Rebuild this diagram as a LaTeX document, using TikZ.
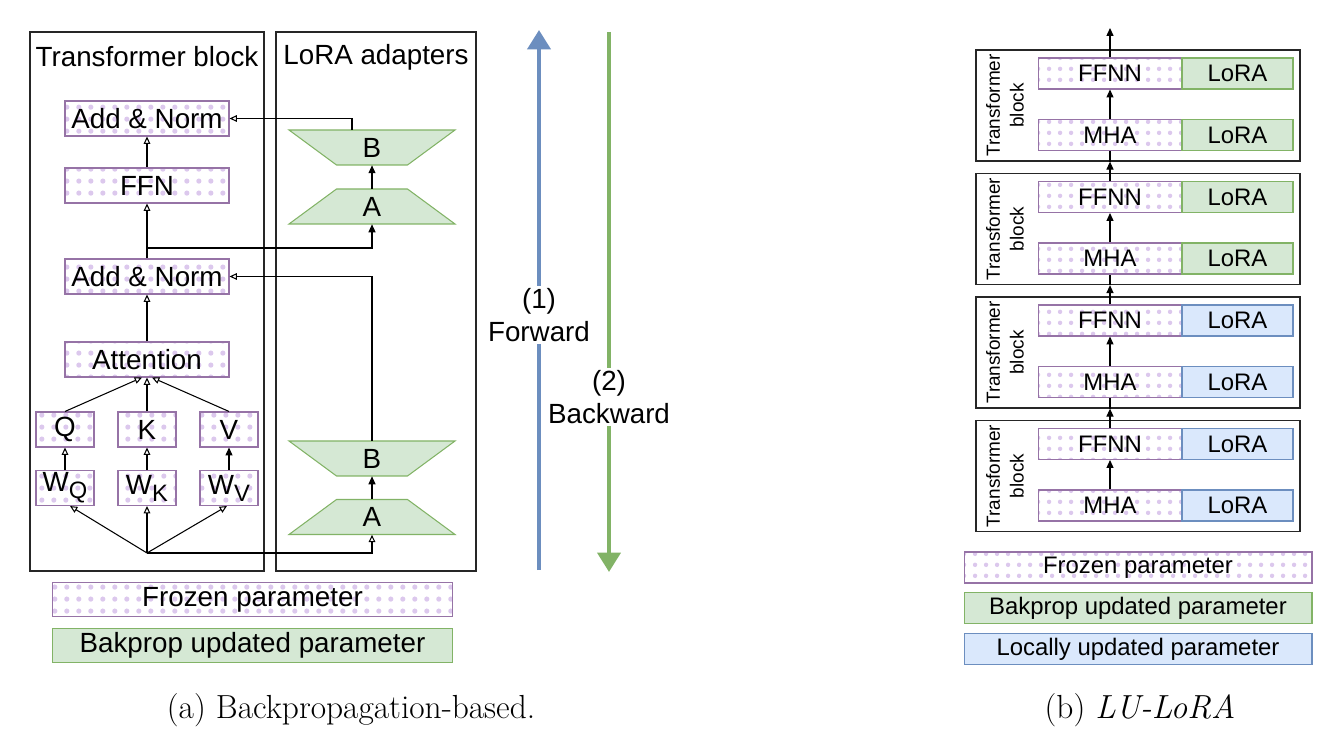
\documentclass[tikz,border=0pt]{standalone}
\usepackage{fontspec}
\newfontfamily\arialf{Liberation Sans}
\usetikzlibrary{calc, arrows.meta, patterns.meta}

\definecolor{frozline}{RGB}{150,115,166}
\definecolor{frozdot}{RGB}{220,200,237}
\definecolor{bpfill}{RGB}{213,232,212}
\definecolor{bpline}{RGB}{130,179,102}
\definecolor{lufill}{RGB}{218,232,252}
\definecolor{luline}{RGB}{108,142,191}

\tikzdeclarepattern{
  name=frozdots, type=uncolored,
  bottom left={(0pt,0pt)}, top right={(7pt,7pt)},
  tile size={(7pt,7pt)},
  code={\fill (3.5pt,3.5pt) circle (1.55pt);}
}
\tikzdeclarepattern{
  name=frozdotssm, type=uncolored,
  bottom left={(0pt,0pt)}, top right={(6pt,6pt)},
  tile size={(6pt,6pt)},
  code={\fill (3pt,3pt) circle (1.3pt);}
}

% trapezoid adapters, drawn at centre (#1,#2); #3 = top inset, #4 = bottom inset
\newcommand{\loratrap}[4]{%
  \filldraw[draw=bpline, fill=bpfill, line width=0.6pt]
    (#1-83+#4,#2+17.5) -- (#1+83-#4,#2+17.5) -- (#1+83-#3,#2-17.5) -- (#1-83+#3,#2-17.5) -- cycle;}
% weight matrix label
\newcommand{\wmat}[1]{W\raisebox{-4pt}{\fontsize{13.5}{14}\selectfont #1}}

\tikzset{
  bigf/.style={font=\arialf\fontsize{15.8}{19}\selectfont},
  smallf/.style={font=\arialf\fontsize{13.6}{16}\selectfont},
  panel/.style={draw=black!85, line width=0.75pt},
  title/.style={bigf, inner sep=0pt},
  frozen/.style={draw=frozline, pattern=frozdots, pattern color=frozdot, inner sep=0pt, line width=0.6pt},
  frozensm/.style={frozen, pattern=frozdotssm},
  wide/.style={bigf, minimum width=3.28cm, minimum height=0.7cm},
  small/.style={bigf, minimum width=1.16cm, minimum height=0.7cm},
  trapbox/.style={bigf, inner sep=0pt, minimum width=3.32cm, minimum height=0.7cm},
  arr/.style={line width=0.6pt, -{Triangle[open, length=4.2pt, width=3.8pt]}},
  arrf/.style={line width=0.6pt, -{Triangle[length=4.5pt, width=4pt]}},
  fwd/.style={line width=2.4pt, -{Triangle[length=11pt, width=13pt]}},
  flabel/.style={bigf, fill=white, align=center, inner sep=1pt},
  legend/.style={bigf, inner sep=0pt, minimum width=8.02cm, minimum height=0.68cm, line width=0.6pt},
  tblock/.style={panel, minimum width=6.48cm, minimum height=2.22cm, inner sep=0pt},
  rotlab/.style={rotate=90, align=center, inner sep=0pt, font=\arialf\fontsize{10.8}{13.6}\selectfont},
  ffnnbox/.style={smallf, minimum width=2.88cm, minimum height=0.62cm},
  lorabox/.style={smallf, inner sep=0pt, line width=0.6pt, minimum width=2.22cm, minimum height=0.62cm},
  rlegend/.style={smallf, inner sep=0pt, minimum width=6.96cm, minimum height=0.62cm, line width=0.6pt},
  capt/.style={font=\fontsize{19}{23}\selectfont, inner sep=0pt}
}

\begin{document}
\begin{tikzpicture}[x=0.02cm, y=-0.02cm]
    \useasboundingbox (0,0) rectangle (1325,739);

    % (a) backpropagation-based
    \draw[panel] (30,32) rectangle (264,571);
    \draw[panel] (276,32) rectangle (476,571);
    \node[title] (ttb) at (147,57) {Transformer block};
    \node[title] (tla) at (376,57) {LoRA adapters};

    \node[frozen, wide] (an1) at (147,118.5) {Add \& Norm};
    \node[frozen, wide] (ffn) at (147,185.5) {FFN};
    \node[frozen, wide] (an2) at (147,276.5) {Add \& Norm};
    \node[frozen, wide] (att) at (147,359.5) {Attention};
    \node[frozen, small] (q) at (65,429.5) {Q};
    \node[frozen, small] (k) at (147,429.5) {K};
    \node[frozen, small] (v) at (229,429.5) {V};
    \node[frozen, small] (wq) at (65,488) {\wmat{Q}};
    \node[frozen, small] (wk) at (147,488) {\wmat{K}};
    \node[frozen, small] (wv) at (229,488) {\wmat{V}};
    \coordinate (jn) at (147,553);
    \coordinate (br) at (147,248);

    \loratrap{372}{147.5}{0}{47.5}
    \loratrap{372}{206.5}{47.5}{0}
    \loratrap{372}{458.5}{0}{47.5}
    \loratrap{372}{517}{47.5}{0}
    \node[trapbox] (upB) at (372,147.5) {B};
    \node[trapbox] (upA) at (372,206.5) {A};
    \node[trapbox] (loB) at (372,458.5) {B};
    \node[trapbox] (loA) at (372,517) {A};

    \draw[arr] (ffn) -- (an1);
    \draw[arr] (an2) -- (ffn);
    \draw[arr] (att) -- (an2);
    \draw[arr] (q.north) -- ($(att.south)+(-5,0)$);
    \draw[arr] (k) -- (att);
    \draw[arr] (v.north) -- ($(att.south)+(5,0)$);
    \draw[arr] (wq) -- (q);
    \draw[arr] (wk) -- (k);
    \draw[arrf] (wv) -- (v);
    \draw[arr] (jn) -- ($(wq.south)+(5,0)$);
    \draw[arr] (jn) -- (wk.south);
    \draw[arr] (jn) -- ($(wv.south)+(-2,0)$);
    \draw[arr] (jn) -| (loA.south);
    \draw[arrf] (loA) -- (loB);
    \draw[arr] (loB.north) |- (an2.east);
    \draw[arrf] (br) -| (upA.south);
    \draw[arrf] (upA) -- (upB);
    \draw[arr] ($(upB.north)+(-20,0)$) |- (an1.east);

    % forward / backward
    \coordinate (fwbot) at (539,570);
    \coordinate (fwtop) at (539,30);
    \coordinate (bwtop) at (609,32);
    \coordinate (bwbot) at (609,572);
    \draw[fwd, luline] (fwbot) -- (fwtop);
    \draw[fwd, bpline] (bwtop) -- (bwbot);
    \node[flabel] (fw) at (539,315) {(1)\\Forward};
    \node[flabel] (bw) at (609,397) {(2)\\Backward};

    \node[frozen, legend] (lfz) at (252.5,599.5) {Frozen parameter};
    \node[legend, draw=bpline, fill=bpfill] (lbp) at (252.5,645.5) {Bakprop updated parameter};
    \node[capt] (ca) at (351,710) {(a) Backpropagation-based.};

    % (b) LU-LoRA
    \foreach \i/\yt/\fc/\lc in {0/50/bpfill/bpline, 1/173.5/bpfill/bpline, 2/297/lufill/luline, 3/420.5/lufill/luline}{
        \node[tblock] (blk\i) at (1138,\yt+55.5) {};
        \node[rotlab] (rl\i) at (1005,\yt+55.5) {Transformer\\block};
        \node[frozensm, ffnnbox] (ffnn\i) at (1110,\yt+23.5) {FFNN};
        \node[frozensm, ffnnbox] (mha\i) at (1110,\yt+85) {MHA};
        \node[lorabox, fill=\fc, draw=\lc] (lf\i) at (1237.5,\yt+23.5) {LoRA};
        \node[lorabox, fill=\fc, draw=\lc] (lm\i) at (1237.5,\yt+85) {LoRA};
        \draw[arrf] (mha\i) -- (ffnn\i);
    }
    \foreach \i/\j in {1/0, 2/1, 3/2}{
        \draw[arrf] (ffnn\i.north) -- (ffnn\i.north |- blk\j.south);
        \draw[line width=0.6pt] (ffnn\i.north |- blk\j.south) -- (mha\j.south);
    }
    \coordinate (out) at (1110,28);
    \draw[arrf] (ffnn0.north) -- (out);

    \node[frozensm, rlegend] (rfz) at (1138,567.5) {Frozen parameter};
    \node[rlegend, draw=bpline, fill=bpfill] (rbp) at (1138,608) {Bakprop updated parameter};
    \node[rlegend, draw=luline, fill=lufill] (rlu) at (1138,649) {Locally updated parameter};
    \node[capt] (cb) at (1140,710) {(b) \textit{LU-LoRA}};
\end{tikzpicture}
\end{document}
